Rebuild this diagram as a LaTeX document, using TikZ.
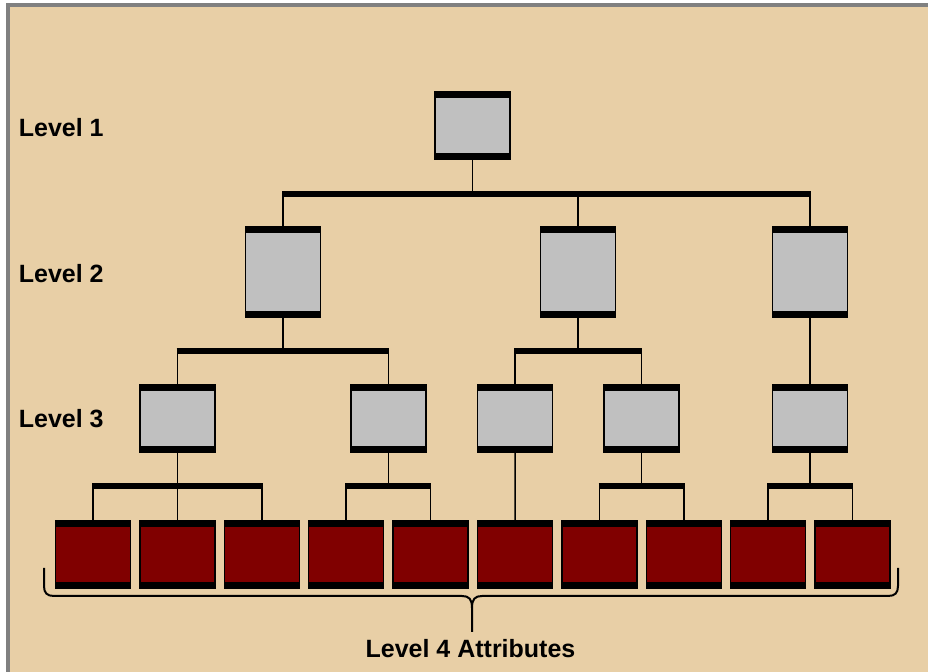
\documentclass[tikz,border=0pt]{standalone}
\usepackage{fontspec}
\setmainfont{Liberation Sans}
\usetikzlibrary{positioning}

\definecolor{paper}{HTML}{E8CFA6}
\definecolor{frame}{HTML}{808080}
\definecolor{boxgray}{HTML}{C0C0C0}
\definecolor{attrred}{HTML}{800000}

\tikzset{
  unit/.style={draw=black,line width=0.7pt,minimum width=37.5pt,minimum height=33.5pt,inner sep=0pt,
    path picture={
      \fill[black] (path picture bounding box.north west) rectangle ([yshift=-3pt]path picture bounding box.north east);
      \fill[black] (path picture bounding box.south west) rectangle ([yshift=3pt]path picture bounding box.south east);}},
  group/.style={unit,fill=boxgray},
  tall/.style={group,minimum height=45pt},
  attr/.style={unit,fill=attrred},
  link/.style={line width=0.75pt},
  bus/.style={line width=3pt,shorten <=-0.4pt,shorten >=-0.4pt},
  lvl/.style={font=\bfseries\fontsize{12.5}{15}\selectfont,inner sep=0pt,anchor=base west}
}

\begin{document}
\begin{tikzpicture}[x=0.5pt,y=-0.5pt]
  \useasboundingbox (0,0) rectangle (928,672);
  \fill[white] (0,0) rectangle (932,676);
  \fill[frame] (6,3) rectangle (932,676);
  \fill[paper] (10,7) rectangle (932,676);

  % level labels
  \node[lvl] (lv1) at (18.5,137) {Level 1};
  \node[lvl] (lv2) at (18.5,283) {Level 2};
  \node[lvl] (lv3) at (18.5,428) {Level 3};

  % boxes
  \node[group] (root) at (472.5,125.5) {};
  \node[tall] (g1) at (283,272) {};
  \node[tall] (g2) at (578,272) {};
  \node[tall] (g3) at (810,272) {};
  \node[group] (s1) at (177.4,418.5) {};
  \node[group] (s2) at (388.5,418.5) {};
  \node[group] (s3) at (515,418.5) {};
  \node[group] (s4) at (641.5,418.5) {};
  \node[group] (s5) at (810,418.5) {};
  \foreach \i in {1,...,10}
    \node[attr] (a\i) at (8.6+84.4*\i,554.5) {};

  \coordinate (b0) at (0,194);
  \coordinate (b1) at (0,351);
  \coordinate (b2) at (0,486);

  % level 1 -> level 2
  \draw[link] (root.south) -- (root.south |- b0);
  \draw[bus] (g1.north |- b0) -- (g3.north |- b0);
  \foreach \c in {g1,g2,g3}
    \draw[link] (\c.north |- b0) -- (\c.north);

  % level 2 -> level 3
  \draw[link] (g1.south) -- (g1.south |- b1);
  \draw[bus] (s1.north |- b1) -- (s2.north |- b1);
  \foreach \c in {s1,s2}
    \draw[link] (\c.north |- b1) -- (\c.north);
  \draw[link] (g2.south) -- (g2.south |- b1);
  \draw[bus] (s3.north |- b1) -- (s4.north |- b1);
  \foreach \c in {s3,s4}
    \draw[link] (\c.north |- b1) -- (\c.north);
  \draw[link] (g3.south) -- (s5.north);

  % level 3 -> level 4
  \draw[link] (s1.south) -- (s1.south |- b2);
  \draw[bus] (a1.north |- b2) -- (a3.north |- b2);
  \foreach \c in {a1,a2,a3}
    \draw[link] (\c.north |- b2) -- (\c.north);
  \draw[link] (s2.south) -- (s2.south |- b2);
  \draw[bus] (a4.north |- b2) -- (a5.north |- b2);
  \foreach \c in {a4,a5}
    \draw[link] (\c.north |- b2) -- (\c.north);
  \draw[link] (s3.south) -- (a6.north);
  \draw[link] (s4.south) -- (s4.south |- b2);
  \draw[bus] (a7.north |- b2) -- (a8.north |- b2);
  \foreach \c in {a7,a8}
    \draw[link] (\c.north |- b2) -- (\c.north);
  \draw[link] (s5.south) -- (s5.south |- b2);
  \draw[bus] (a9.north |- b2) -- (a10.north |- b2);
  \foreach \c in {a9,a10}
    \draw[link] (\c.north |- b2) -- (\c.north);

  % brace
  \coordinate (tip) at (472,632);
  \draw[line width=1pt]
    (44,568) -- (44,586) .. controls (44,593) and (47,596) .. (54,596) -- (462,596)
      .. controls (469,596) and (472,599) .. (472,608) -- (tip)
    (898,568) -- (898,586) .. controls (898,593) and (895,596) .. (888,596) -- (482,596)
      .. controls (475,596) and (472,599) .. (472,608);
  \node[lvl,anchor=base] (attrs) at (470.5,658) {Level 4 Attributes};
\end{tikzpicture}
\end{document}
